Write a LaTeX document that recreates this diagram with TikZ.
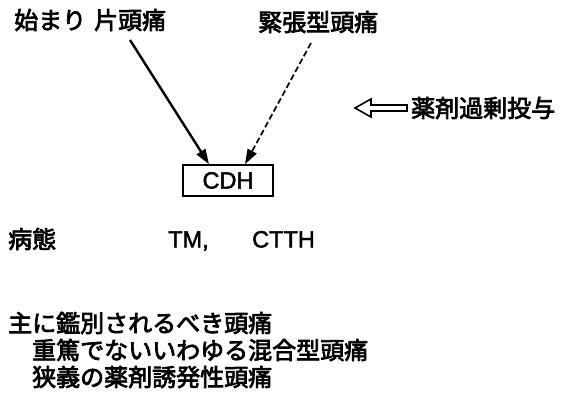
\documentclass[tikz,border=0pt]{standalone}
\usepackage{fontspec}
\setmainfont{Liberation Sans}[FakeBold=2]
\newfontfamily\jp{Noto Sans CJK JP}[FakeBold=3]
\usetikzlibrary{arrows.meta}
\begin{document}
\begin{tikzpicture}[x=1pt,y=-1pt,
  jtext/.style={font=\jp\fontsize{24}{27}\selectfont, inner sep=0pt, anchor=west},
  ltext/.style={font=\fontsize{23.5}{27}\selectfont, inner sep=0pt, anchor=base west},
  conn/.style={-{Triangle[length=15pt,width=10pt]}, line width=2.4pt},
  dconn/.style={-{Triangle[length=15pt,width=10pt]}, line width=1.7pt, dash pattern=on 6pt off 3pt}]
\useasboundingbox (0,0) rectangle (564,401);
\fill[white] (0,0) rectangle (564,401);
\node[jtext] (mig) at (14,20) {始まり\hspace{0.33em}片頭痛};
\node[jtext] (tth) at (258,22) {緊張型頭痛};
\node[draw, line width=1.5pt, minimum width=90pt, minimum height=31pt, inner sep=0pt,
      font=\fontsize{23.5}{27}\selectfont] (cdh) at (228,180.5) {CDH};
\coordinate (s1) at (130,40);
\coordinate (s2) at (311,43);
\draw[conn] (s1) -- ([xshift=-19pt]cdh.north);
\draw[dconn] (s2) -- ([xshift=17pt]cdh.north);
\node[jtext] (moh) at (411,108) {薬剤過剰投与};
\draw[line width=1.6pt, line join=miter]
  ([xshift=-56pt]moh.west) -- ++(16,-9) -- ++(0,6) -- ++(36,0) -- ++(0,6) -- ++(-36,0) -- ++(0,6) -- cycle;
\node[jtext] (byo) at (8,239) {病態};
\node[ltext] (tm) at (168,247.5) {TM,};
\node[ltext] (ctth) at (252,247.5) {CTTH};
\node[jtext] (l1) at (8,323) {主に鑑別されるべき頭痛};
\node[jtext] (l2) at (32,350) {重篤でないいわゆる混合型頭痛};
\node[jtext] (l3) at (32,377) {狭義の薬剤誘発性頭痛};
\end{tikzpicture}
\end{document}
